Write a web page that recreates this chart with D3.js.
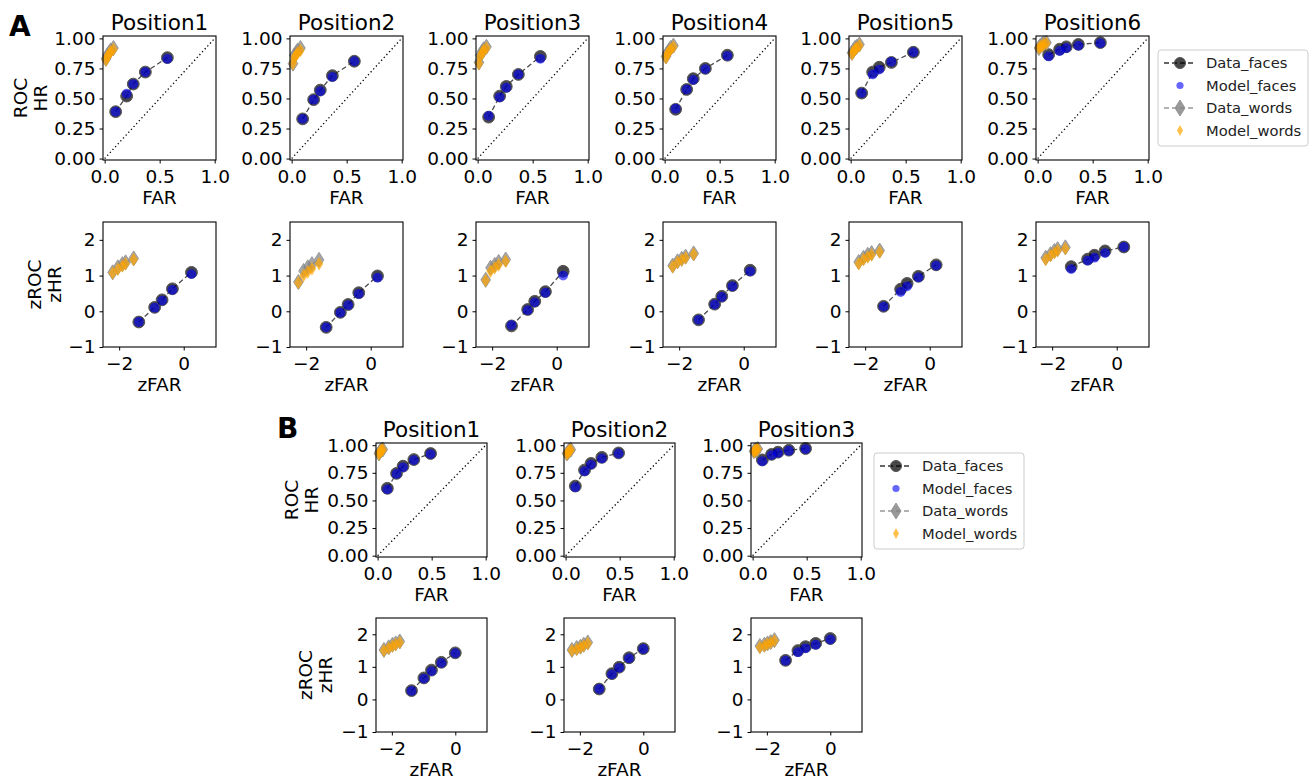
<!DOCTYPE html>
<html>
<head>
<meta charset="utf-8">
<script src="https://cdn.jsdelivr.net/npm/d3@7"></script>
<style>
  body { margin: 0; background: #fff; }
  svg { font-family: "DejaVu Sans", sans-serif; }
</style>
</head>
<body>
<svg width="1314" height="781"></svg>
<script>
// ---- data ----
const positionsA = ["Position1", "Position2", "Position3", "Position4", "Position5", "Position6"];
const positionsB = ["Position1", "Position2", "Position3"];

// ROC, part A (faces share FAR)
const rocFarFacesA = [0.10, 0.20, 0.26, 0.37, 0.57];
const rocHrDataFacesA = [
  [0.39, 0.52, 0.62, 0.72, 0.84],
  [0.33, 0.49, 0.57, 0.69, 0.81],
  [0.345, 0.52, 0.60, 0.70, 0.85],
  [0.41, 0.575, 0.665, 0.75, 0.86],
  [0.545, 0.72, 0.76, 0.80, 0.885],
  [0.865, 0.91, 0.93, 0.95, 0.965]
];
const rocHrModelFacesA = [
  [0.39, 0.54, 0.62, 0.72, 0.83],
  [0.33, 0.49, 0.56, 0.68, 0.81],
  [0.355, 0.51, 0.59, 0.70, 0.83],
  [0.415, 0.575, 0.655, 0.745, 0.855],
  [0.545, 0.70, 0.74, 0.805, 0.885],
  [0.85, 0.895, 0.92, 0.94, 0.96]
];
const rocFarWordsA = [0.012, 0.025, 0.04, 0.055, 0.08];
const rocHrDataWordsA = [
  [0.83, 0.86, 0.88, 0.90, 0.92],
  [0.79, 0.86, 0.88, 0.90, 0.92],
  [0.80, 0.86, 0.89, 0.91, 0.93],
  [0.85, 0.88, 0.90, 0.92, 0.94],
  [0.88, 0.90, 0.92, 0.93, 0.95],
  [0.92, 0.94, 0.95, 0.96, 0.965]
];
const rocHrModelWordsA = [
  [0.82, 0.85, 0.87, 0.89, 0.91],
  [0.79, 0.84, 0.86, 0.88, 0.90],
  [0.79, 0.85, 0.88, 0.90, 0.92],
  [0.84, 0.87, 0.89, 0.91, 0.93],
  [0.87, 0.89, 0.91, 0.92, 0.94],
  [0.92, 0.93, 0.94, 0.95, 0.96]
];

// zROC, part A
const zFarFacesA = [
  [-1.39, -0.90, -0.67, -0.35, 0.24],
  [-1.38, -0.94, -0.70, -0.37, 0.21],
  [-1.40, -0.90, -0.68, -0.35, 0.20],
  [-1.40, -0.90, -0.68, -0.35, 0.20],
  [-1.43, -0.90, -0.70, -0.35, 0.20],
  [-1.41, -0.90, -0.69, -0.36, 0.22]
];
const zHrDataFacesA = [
  [-0.30, 0.11, 0.32, 0.63, 1.09],
  [-0.45, -0.03, 0.19, 0.52, 0.99],
  [-0.41, 0.05, 0.28, 0.55, 1.12],
  [-0.24, 0.20, 0.42, 0.72, 1.15],
  [0.14, 0.62, 0.78, 0.98, 1.30],
  [1.25, 1.46, 1.57, 1.69, 1.80]
];
const zHrModelFacesA = [
  [-0.30, 0.10, 0.30, 0.60, 1.04],
  [-0.45, -0.04, 0.17, 0.49, 0.94],
  [-0.39, 0.03, 0.25, 0.52, 1.00],
  [-0.24, 0.19, 0.40, 0.70, 1.12],
  [0.13, 0.54, 0.70, 0.95, 1.28],
  [1.18, 1.42, 1.50, 1.63, 1.80]
];
const zFarWordsA = [
  [-2.20, -2.04, -1.90, -1.80, -1.55],
  [-2.24, -2.08, -1.95, -1.82, -1.60],
  [-2.20, -2.05, -1.92, -1.80, -1.58],
  [-2.20, -2.05, -1.92, -1.80, -1.55],
  [-2.20, -2.05, -1.92, -1.80, -1.55],
  [-2.20, -2.05, -1.93, -1.83, -1.59]
];
const zHrDataWordsA = [
  [1.09, 1.23, 1.32, 1.37, 1.48],
  [0.82, 1.13, 1.23, 1.32, 1.44],
  [0.88, 1.22, 1.30, 1.38, 1.45],
  [1.28, 1.40, 1.47, 1.53, 1.62],
  [1.38, 1.50, 1.58, 1.63, 1.70],
  [1.50, 1.60, 1.69, 1.74, 1.79]
];
const zHrModelWordsA = [
  [1.07, 1.18, 1.27, 1.33, 1.45],
  [0.80, 1.00, 1.10, 1.19, 1.33],
  [0.86, 1.12, 1.22, 1.30, 1.40],
  [1.25, 1.37, 1.44, 1.50, 1.60],
  [1.33, 1.45, 1.52, 1.58, 1.66],
  [1.45, 1.56, 1.64, 1.70, 1.76]
];

// ROC, part B
const rocFarFacesB = [0.09, 0.175, 0.235, 0.335, 0.49];
const rocHrDataFacesB = [
  [0.61, 0.745, 0.81, 0.87, 0.925],
  [0.63, 0.775, 0.835, 0.89, 0.93],
  [0.867, 0.917, 0.937, 0.955, 0.97]
];
const rocHrModelFacesB = [
  [0.60, 0.74, 0.80, 0.865, 0.92],
  [0.62, 0.765, 0.825, 0.88, 0.925],
  [0.855, 0.91, 0.93, 0.95, 0.965]
];
const rocFarWordsB = [0.012, 0.02, 0.028, 0.036, 0.048];
const rocHrDataWordsB = [
  [0.925, 0.94, 0.95, 0.956, 0.962],
  [0.925, 0.935, 0.945, 0.952, 0.96],
  [0.945, 0.952, 0.957, 0.961, 0.966]
];
const rocHrModelWordsB = [
  [0.92, 0.935, 0.946, 0.953, 0.96],
  [0.92, 0.932, 0.942, 0.95, 0.957],
  [0.942, 0.949, 0.954, 0.959, 0.964]
];

// zROC, part B
const zFarFacesB = [
  [-1.38, -0.99, -0.75, -0.44, 0.0],
  [-1.39, -0.99, -0.76, -0.45, 0.0],
  [-1.41, -1.02, -0.78, -0.46, 0.0]
];
const zHrDataFacesB = [
  [0.27, 0.66, 0.90, 1.14, 1.43],
  [0.32, 0.79, 0.99, 1.28, 1.56],
  [1.20, 1.50, 1.62, 1.72, 1.87]
];
const zHrModelFacesB = [
  [0.26, 0.64, 0.87, 1.12, 1.42],
  [0.32, 0.77, 0.97, 1.26, 1.55],
  [1.19, 1.45, 1.57, 1.68, 1.84]
];
const zFarWordsB = [
  [-2.25, -2.10, -1.98, -1.88, -1.75],
  [-2.25, -2.10, -1.98, -1.88, -1.75],
  [-2.22, -2.08, -1.98, -1.88, -1.76]
];
const zHrDataWordsB = [
  [1.52, 1.60, 1.68, 1.72, 1.78],
  [1.52, 1.58, 1.62, 1.68, 1.75],
  [1.64, 1.68, 1.72, 1.76, 1.82]
];
const zHrModelWordsB = [
  [1.50, 1.57, 1.64, 1.69, 1.75],
  [1.50, 1.54, 1.60, 1.65, 1.72],
  [1.60, 1.65, 1.70, 1.74, 1.80]
];

const rocTicksX = [0, 0.5, 1];
const rocTicksY = [0, 0.25, 0.5, 0.75, 1];
const zTicksX = [-2, 0];
const zTicksY = [-1, 0, 1, 2];
const legendLabels = ["Data_faces", "Model_faces", "Data_words", "Model_words"];

// ---- drawing ----
const svg = d3.select("svg");

const diamond = (w, h) => `M0,${-h}L${w},0L0,${h}L${-w},0Z`;

function zip(xs, ys) {
  return xs.map((x, i) => [x, ys[i]]);
}

function drawPanel(p) {
  const x = d3.scaleLinear().domain(p.xDomain).range([p.left, p.left + p.width]);
  const y = d3.scaleLinear().domain(p.yDomain).range([p.top + p.height, p.top]);
  const g = svg.append("g");

  if (p.diagonal) {
    g.append("line")
      .attr("x1", x(0)).attr("y1", y(0))
      .attr("x2", x(1)).attr("y2", y(1))
      .attr("stroke", "#000").attr("stroke-width", 1.3)
      .attr("stroke-dasharray", "1.3,2.6");
  }

  const line = d3.line().x(d => x(d[0])).y(d => y(d[1]));

  // data faces
  g.append("path").attr("d", line(p.dataFaces))
    .attr("fill", "none").attr("stroke", "#000").attr("stroke-opacity", 0.7)
    .attr("stroke-width", 1.3).attr("stroke-dasharray", "5,3");
  g.selectAll(".df").data(p.dataFaces).join("circle")
    .attr("cx", d => x(d[0])).attr("cy", d => y(d[1])).attr("r", 5.9)
    .attr("fill", "#000").attr("fill-opacity", 0.72)
    .attr("stroke", "#555").attr("stroke-width", 1);
  // model faces
  g.selectAll(".mf").data(p.modelFaces).join("circle")
    .attr("cx", d => x(d[0])).attr("cy", d => y(d[1])).attr("r", 4.9)
    .attr("fill", "#0000ff").attr("fill-opacity", 0.6);

  // data words
  g.append("path").attr("d", line(p.dataWords))
    .attr("fill", "none").attr("stroke", "#808080").attr("stroke-opacity", 0.8)
    .attr("stroke-width", 1.3).attr("stroke-dasharray", "5,3");
  g.selectAll(".dw").data(p.dataWords).join("path")
    .attr("transform", d => `translate(${x(d[0])},${y(d[1])})`)
    .attr("d", diamond(4.8, 7.5))
    .attr("fill", "#808080").attr("fill-opacity", 0.7)
    .attr("stroke", "#999").attr("stroke-width", 1);
  // model words
  g.selectAll(".mw").data(p.modelWords).join("path")
    .attr("transform", d => `translate(${x(d[0])},${y(d[1])})`)
    .attr("d", diamond(4.2, 6.8))
    .attr("fill", "#ffa500").attr("fill-opacity", 0.7);

  // frame
  g.append("rect")
    .attr("x", p.left).attr("y", p.top)
    .attr("width", p.width).attr("height", p.height)
    .attr("fill", "none").attr("stroke", "#000").attr("stroke-width", 1.1);

  // axes
  const xAxis = d3.axisBottom(x).tickValues(p.xTicks).tickFormat(p.xFormat)
    .tickSizeInner(3.5).tickSizeOuter(0).tickPadding(6);
  const yAxis = d3.axisLeft(y).tickValues(p.yTicks).tickFormat(p.yFormat)
    .tickSizeInner(3.5).tickSizeOuter(0).tickPadding(4);
  const gx = g.append("g").attr("transform", `translate(0,${p.top + p.height})`).call(xAxis);
  const gy = g.append("g").attr("transform", `translate(${p.left},0)`).call(yAxis);
  [gx, gy].forEach(a => {
    a.select(".domain").remove();
    a.selectAll("text").attr("font-size", 18.5).attr("fill", "#000")
      .attr("font-family", "DejaVu Sans");
    a.selectAll("line").attr("stroke", "#000").attr("stroke-width", 1);
  });

  // x label
  g.append("text")
    .attr("x", p.left + p.width / 2).attr("y", p.top + p.height + 44)
    .attr("text-anchor", "middle").attr("font-size", 18.5)
    .text(p.xLabel);

  if (p.title) {
    g.append("text")
      .attr("x", p.left + p.width / 2).attr("y", p.top - 6)
      .attr("text-anchor", "middle").attr("font-size", 21.5)
      .text(p.title);
  }

  if (p.yLabel) {
    const cy = p.top + p.height / 2;
    p.yLabel.forEach((t, i) => {
      const bx = p.left - p.yLabelOffsets[i];
      g.append("text")
        .attr("transform", `translate(${bx},${cy}) rotate(-90)`)
        .attr("text-anchor", "middle").attr("font-size", 18.5)
        .text(t);
    });
  }
}

function drawLegend(left, top) {
  const w = 150, h = 96;
  const g = svg.append("g").attr("transform", `translate(${left},${top})`);
  g.append("rect").attr("width", w).attr("height", h).attr("rx", 3)
    .attr("fill", "#fff").attr("fill-opacity", 0.8)
    .attr("stroke", "#ccc").attr("stroke-width", 1);
  legendLabels.forEach((lab, i) => {
    const ly = 13 + i * 22.5;
    const row = g.append("g").attr("transform", `translate(0,${ly})`);
    if (i === 0 || i === 2) {
      row.append("line").attr("x1", 6).attr("x2", 38)
        .attr("stroke", i === 0 ? "#000" : "#808080").attr("stroke-opacity", 0.8)
        .attr("stroke-width", 1.3).attr("stroke-dasharray", "5,3");
    }
    if (i === 0) {
      row.append("circle").attr("cx", 22).attr("r", 5.5)
        .attr("fill", "#000").attr("fill-opacity", 0.72).attr("stroke", "#555");
    } else if (i === 1) {
      row.append("circle").attr("cx", 22).attr("r", 3.6)
        .attr("fill", "#0000ff").attr("fill-opacity", 0.6);
    } else if (i === 2) {
      row.append("path").attr("transform", "translate(22,0)").attr("d", diamond(5, 8))
        .attr("fill", "#808080").attr("fill-opacity", 0.8).attr("stroke", "#999");
    } else {
      row.append("path").attr("transform", "translate(22,0)").attr("d", diamond(3, 5.5))
        .attr("fill", "#ffa500").attr("fill-opacity", 0.7);
    }
    row.append("text").attr("x", 48).attr("dy", "0.35em")
      .attr("font-size", 14.7).attr("fill", "#222").text(lab);
  });
}

const fmt2 = d3.format(".2f");
const fmt1 = d3.format(".1f");
const fmtZ = d3.format("d");

// part A
const leftsA = [103, 290, 476, 663, 849, 1036];
positionsA.forEach((name, i) => {
  drawPanel({
    left: leftsA[i], top: 36, width: 113, height: 124,
    xDomain: [-0.015, 1.012], yDomain: [-0.012, 1.02],
    xTicks: rocTicksX, yTicks: rocTicksY, xFormat: fmt1, yFormat: fmt2,
    diagonal: true, title: name, xLabel: "FAR",
    yLabel: i === 0 ? ["ROC", "HR"] : null, yLabelOffsets: [76, 56],
    dataFaces: zip(rocFarFacesA, rocHrDataFacesA[i]),
    modelFaces: zip(rocFarFacesA, rocHrModelFacesA[i]),
    dataWords: zip(rocFarWordsA, rocHrDataWordsA[i]),
    modelWords: zip(rocFarWordsA, rocHrModelWordsA[i])
  });
  drawPanel({
    left: leftsA[i], top: 222, width: 113, height: 125,
    xDomain: [-2.5, 1], yDomain: [-1, 2.5],
    xTicks: zTicksX, yTicks: zTicksY, xFormat: fmtZ, yFormat: fmtZ,
    diagonal: false, title: null, xLabel: "zFAR",
    yLabel: i === 0 ? ["zROC", "zHR"] : null, yLabelOffsets: [62, 42],
    dataFaces: zip(zFarFacesA[i], zHrDataFacesA[i]),
    modelFaces: zip(zFarFacesA[i], zHrModelFacesA[i]),
    dataWords: zip(zFarWordsA[i], zHrDataWordsA[i]),
    modelWords: zip(zFarWordsA[i], zHrModelWordsA[i])
  });
});

// part B
const leftsB = [376, 564, 751];
positionsB.forEach((name, i) => {
  drawPanel({
    left: leftsB[i], top: 443, width: 111, height: 114,
    xDomain: [-0.015, 1.012], yDomain: [-0.012, 1.02],
    xTicks: rocTicksX, yTicks: rocTicksY, xFormat: fmt1, yFormat: fmt2,
    diagonal: true, title: name, xLabel: "FAR",
    yLabel: i === 0 ? ["ROC", "HR"] : null, yLabelOffsets: [78, 58],
    dataFaces: zip(rocFarFacesB, rocHrDataFacesB[i]),
    modelFaces: zip(rocFarFacesB, rocHrModelFacesB[i]),
    dataWords: zip(rocFarWordsB, rocHrDataWordsB[i]),
    modelWords: zip(rocFarWordsB, rocHrModelWordsB[i])
  });
  drawPanel({
    left: leftsB[i], top: 618, width: 111, height: 114,
    xDomain: [-2.5, 1], yDomain: [-1, 2.5],
    xTicks: zTicksX, yTicks: zTicksY, xFormat: fmtZ, yFormat: fmtZ,
    diagonal: false, title: null, xLabel: "zFAR",
    yLabel: i === 0 ? ["zROC", "zHR"] : null, yLabelOffsets: [64, 44],
    dataFaces: zip(zFarFacesB[i], zHrDataFacesB[i]),
    modelFaces: zip(zFarFacesB[i], zHrModelFacesB[i]),
    dataWords: zip(zFarWordsB[i], zHrDataWordsB[i]),
    modelWords: zip(zFarWordsB[i], zHrModelWordsB[i])
  });
});

drawLegend(1158, 50);
drawLegend(874, 453);

svg.append("text").attr("x", 9).attr("y", 36)
  .attr("font-size", 28).attr("font-weight", "bold").text("A");
svg.append("text").attr("x", 277).attr("y", 438)
  .attr("font-size", 28).attr("font-weight", "bold").text("B");
</script>
</body>
</html>
